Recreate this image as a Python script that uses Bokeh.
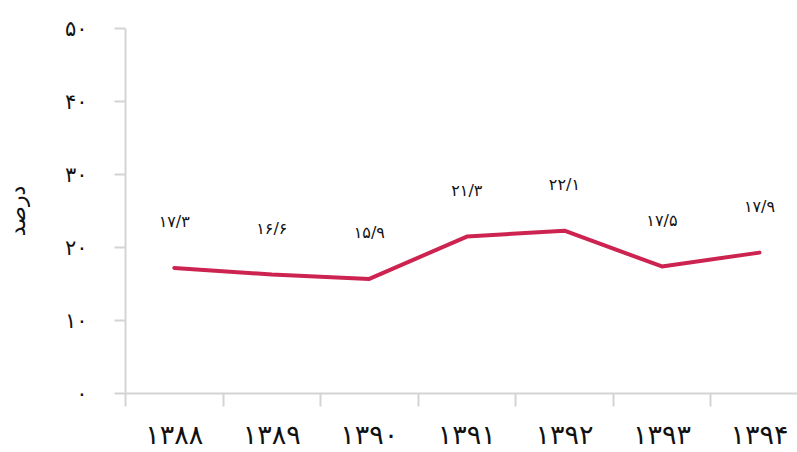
from bokeh.plotting import figure
from bokeh.models import Range1d, FixedTicker, ColumnDataSource
from bokeh.core.properties import value
from bokeh.embed import file_html
from bokeh.resources import INLINE

years = ["۱۳۸۸", "۱۳۸۹", "۱۳۹۰", "۱۳۹۱", "۱۳۹۲", "۱۳۹۳", "۱۳۹۴"]
values = [17.2, 16.3, 15.7, 21.5, 22.3, 17.4, 19.3]
point_labels = ["۱۷/۳", "۱۶/۶", "۱۵/۹", "۲۱/۳", "۲۲/۱", "۱۷/۵", "۱۷/۹"]
y_ticks = [0, 10, 20, 30, 40, 50]
y_tick_labels = ["۰", "۱۰", "۲۰", "۳۰", "۴۰", "۵۰"]
y_title = "درصد"

FONT = "DejaVu Sans"
AXIS_COLOR = "#d4d4d4"
LINE_COLOR = "#cc2350"

centers = [i + 0.5 for i in range(len(years))]
bounds = list(range(len(years) + 1))

p = figure(width=797, height=452, output_backend="svg", toolbar_location=None,
           x_range=Range1d(0, 6.89), y_range=Range1d(0, 50),
           min_border_left=125, min_border_top=28, min_border_bottom=57,
           min_border_right=0)
p.outline_line_color = None
p.xgrid.visible = False
p.ygrid.visible = False
p.background_fill_color = "white"
p.border_fill_color = "white"

src = ColumnDataSource(dict(x=centers, y=values, lab=point_labels))
p.line("x", "y", source=src, line_color=LINE_COLOR, line_width=4, line_cap="round", line_join="round")
p.text("x", "y", text="lab", source=src, y_offset=-46, text_align="center",
       text_baseline="middle", text_font=value(FONT), text_font_size="16px", text_color="#111111")

# x axis
xa = p.xaxis[0]
xa.ticker = FixedTicker(ticks=centers, minor_ticks=bounds)
xa.major_label_overrides = {c: y for c, y in zip(centers, years)}
xa.major_tick_out = 0
xa.major_tick_in = 0
xa.minor_tick_out = 13
xa.minor_tick_in = 0
xa.minor_tick_line_color = AXIS_COLOR
xa.minor_tick_line_width = 2
xa.axis_line_color = AXIS_COLOR
xa.axis_line_width = 2
xa.major_label_standoff = 12
xa.major_label_text_font = FONT
xa.major_label_text_font_size = "27px"
xa.major_label_text_color = "#111111"

# y axis
ya = p.yaxis[0]
ya.ticker = FixedTicker(ticks=y_ticks, minor_ticks=[])
ya.major_label_overrides = {t: l for t, l in zip(y_ticks, y_tick_labels)}
ya.major_tick_out = 11
ya.major_tick_in = 0
ya.major_tick_line_color = AXIS_COLOR
ya.major_tick_line_width = 2
ya.axis_line_color = AXIS_COLOR
ya.axis_line_width = 2
ya.major_label_standoff = 27
ya.major_label_text_font = FONT
ya.major_label_text_font_size = "21px"
ya.major_label_text_color = "#111111"
ya.axis_label = y_title
ya.axis_label_text_font = FONT
ya.axis_label_text_font_size = "22px"
ya.axis_label_text_font_style = "normal"
ya.axis_label_text_color = "#111111"
ya.axis_label_standoff = 32

open("out.html", "w").write(file_html(p, INLINE))
